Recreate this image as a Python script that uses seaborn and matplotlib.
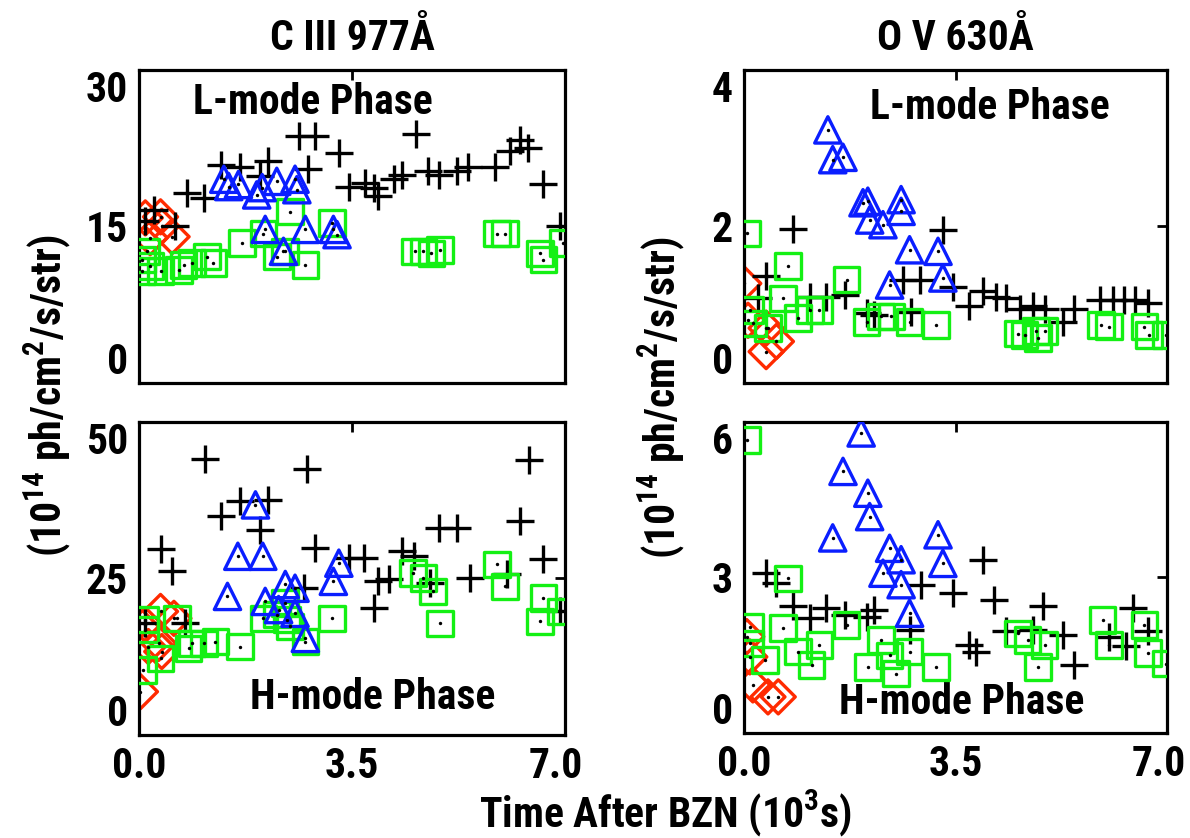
import matplotlib
matplotlib.use("Agg")
import matplotlib.pyplot as plt
from matplotlib import font_manager
from matplotlib.transforms import ScaledTranslation
import seaborn as sns

# ---- 数据：C III 977Å, L-mode ----
ciii_l_plus_t = [0.25, 0.10, 0.59, 0.78, 1.07, 1.34, 1.65, 1.98, 2.12, 2.62, 2.78, 2.89, 3.28, 3.44, 3.71, 3.85, 3.93,
                 4.18, 4.32, 4.54, 4.75, 4.92, 5.22, 5.41, 5.85, 6.10, 6.26, 6.39, 6.64, 6.91]
ciii_l_plus_v = [16.6, 15.5, 15.0, 18.2, 17.7, 20.9, 20.7, 19.8, 21.2, 23.6, 20.5, 23.6, 22.0, 18.75, 19.1, 18.7, 17.9,
                 19.5, 19.9, 23.8, 20.3, 19.9, 20.3, 20.7, 20.7, 22.2, 23.3, 22.5, 19.0, 15.0]
ciii_l_tri_t = [1.39, 1.47, 1.63, 1.93, 2.02, 2.26, 2.56, 2.59, 2.07, 2.73, 2.37, 3.19, 3.25]
ciii_l_tri_v = [19.5, 18.8, 19.0, 18.0, 18.7, 19.3, 19.5, 18.5, 14.7, 14.7, 12.6, 14.7, 14.2]
ciii_l_sq_t = [2.48, 3.17, 2.04, 1.69, 2.40, 2.26, 2.73, 1.22, 1.11, 0.87, 0.73, 0.65, 0.35, 0.18, 0.05, 0.05, 0.12,
               4.53, 4.67, 4.80, 4.94, 5.88, 6.01, 6.59, 6.64, 6.96]
ciii_l_sq_v = [16.4, 15.3, 14.3, 13.4, 12.6, 12.1, 11.3, 11.5, 12.1, 11.5, 11.3, 10.8, 10.7, 11.2, 11.8, 10.7, 12.6,
               12.6, 12.6, 12.4, 12.7, 14.3, 14.3, 12.4, 11.8, 13.4]
ciii_l_dia_t = [0.10, 0.35, 0.37, 0.18, 0.54]
ciii_l_dia_v = [15.8, 15.9, 15.0, 13.9, 14.0]

# ---- C III 977Å, H-mode ----
ciii_h_plus_t = [1.08, 2.76, 6.40, 1.66, 2.12, 1.34, 1.99, 0.36, 0.54, 2.89, 3.44, 3.69, 4.32, 4.51, 4.92, 5.22, 6.26,
                 6.64, 3.93, 4.10, 3.85, 5.44, 6.04, 6.92, 2.70, 4.78, 0.76, 0.10]
ciii_h_plus_v = [44.0, 42.4, 43.9, 37.3, 37.4, 34.9, 32.7, 29.6, 26.1, 29.8, 28.2, 28.2, 29.3, 28.5, 33.0, 33.0, 34.1,
                 28.1, 24.5, 24.8, 20.2, 25.0, 25.6, 19.7, 23.4, 24.2, 17.8, 17.8]
ciii_h_tri_t = [1.91, 1.62, 2.03, 1.45, 2.40, 2.56, 3.28, 3.19, 2.07, 2.29, 2.56, 2.73]
ciii_h_tri_v = [36.7, 28.5, 28.5, 22.1, 24.0, 23.4, 27.4, 24.5, 21.3, 20.0, 19.4, 15.4]
ciii_h_sq_t = [0.10, 0.10, 0.62, 0.35, 0.07, 0.87, 0.81, 1.06, 1.25, 1.66, 2.04, 2.26, 2.40, 2.43, 2.48, 2.73, 3.17,
               4.50, 4.67, 4.83, 4.94, 5.88, 6.01, 6.64, 6.59, 6.93]
ciii_h_sq_v = [18.4, 16.8, 18.6, 12.2, 10.4, 14.6, 13.8, 14.6, 14.9, 14.1, 18.6, 19.2, 21.0, 18.4, 17.3, 14.9, 18.6,
               25.8, 25.0, 22.9, 17.8, 27.2, 23.7, 21.8, 18.1, 19.7]
ciii_h_dia_t = [0.35, 0.57, 0.10, 0.32, 0.15, 0.37, 0.02]
ciii_h_dia_v = [19.7, 18.6, 17.6, 14.6, 14.1, 13.3, 6.9]

# ---- O V 630Å, L-mode ----
ov_l_plus_t = [0.81, 3.29, 0.37, 0.24, 1.09, 1.36, 1.67, 2.03, 2.16, 2.63, 2.91, 2.77, 3.46, 3.73, 3.95, 4.17, 4.34,
               4.56, 4.78, 4.97, 5.27, 5.46, 5.88, 6.10, 6.29, 6.46, 6.68]
ov_l_plus_v = [1.96, 1.95, 1.36, 1.08, 1.10, 1.10, 1.12, 0.89, 0.87, 1.32, 1.32, 0.91, 1.23, 0.98, 1.17, 1.10, 1.08,
               0.95, 0.98, 0.95, 0.78, 0.95, 1.06, 1.06, 1.06, 1.06, 1.02]
ov_l_tri_t = [1.39, 1.47, 1.64, 1.97, 2.05, 2.08, 2.30, 2.60, 2.60, 2.74, 3.21, 3.29, 2.41]
ov_l_tri_v = [3.23, 2.85, 2.88, 2.30, 2.32, 2.08, 2.02, 2.34, 2.19, 1.70, 1.68, 1.34, 1.25]
ov_l_sq_t = [0.05, 0.73, 0.65, 1.70, 0.10, 0.15, 0.40, 0.90, 1.09, 1.25, 2.03, 2.27, 2.44, 2.74, 3.18, 4.53, 4.64,
             4.83, 4.97, 4.86, 5.90, 6.04, 6.62, 6.70, 6.98]
ov_l_sq_v = [1.91, 1.49, 1.08, 1.32, 0.93, 0.76, 0.70, 0.83, 0.93, 0.93, 0.78, 0.85, 0.85, 0.78, 0.74, 0.63, 0.61,
             0.66, 0.66, 0.57, 0.74, 0.72, 0.72, 0.61, 0.61]
ov_l_dia_t = [0.00, 0.07, 0.37, 0.54, 0.37]
ov_l_dia_v = [1.27, 0.80, 0.70, 0.53, 0.40]

# ---- O V 630Å, H-mode ----
ov_h_plus_t = [0.37, 0.54, 3.95, 2.93, 3.46, 4.14, 4.94, 6.43, 0.81, 1.09, 1.36, 1.67, 2.03, 2.16, 2.74, 3.73, 3.84,
               4.34, 4.78, 5.27, 5.46, 6.04, 6.32, 6.68]
ov_h_plus_v = [3.08, 2.89, 3.34, 2.86, 2.69, 2.57, 2.44, 2.41, 2.44, 2.21, 2.41, 2.28, 2.24, 2.37, 1.99, 1.70, 1.57,
               1.96, 1.99, 1.89, 1.31, 1.86, 1.67, 1.96]
ov_h_tri_t = [1.94, 1.64, 2.05, 2.08, 1.47, 3.21, 2.41, 2.60, 2.30, 3.29, 2.60, 2.74]
ov_h_tri_v = [5.78, 5.04, 4.62, 4.17, 3.76, 3.82, 3.56, 3.34, 3.08, 3.27, 2.86, 2.31]
ov_h_sq_t = [0.05, 0.73, 0.10, 0.65, 0.10, 0.35, 0.90, 1.12, 1.25, 1.70, 2.05, 2.27, 2.41, 2.52, 2.74, 3.18, 4.53,
             4.69, 4.97, 4.86, 5.93, 6.04, 6.62, 6.68, 6.98]
ov_h_sq_v = [5.65, 2.98, 2.05, 2.02, 1.73, 1.41, 1.57, 1.31, 1.70, 2.08, 1.28, 1.79, 1.50, 1.15, 1.57, 1.28, 1.92,
             1.79, 1.70, 1.28, 2.18, 1.70, 2.08, 1.54, 1.34]
ov_h_dia_t = [0.05, 0.10, 0.15, 0.40, 0.57]
ov_h_dia_v = [1.86, 1.47, 0.93, 0.70, 0.70]

titles = ['C III 977Å', 'O V 630Å']
ylims = [[30, 50], [4, 6]]
xticks = [0.0, 3.5, 7.0]
xticklabels = ['0.0', '3.5', '7.0']

# 字体：找一个窄体（condensed），接近原图 IDL 的瘦高字体
cands = ['Liberation Sans Narrow', 'Roboto Condensed', 'Open Sans Condensed', 'DejaVu Sans Condensed']
names = {f.name for f in font_manager.fontManager.ttflist}
FONT = next((n for n in cands if n in names), None)
STRETCH = 'normal'
if FONT is None:
    cond = [f for f in font_manager.fontManager.ttflist
            if 'condensed' in str(f.stretch) or 'Condensed' in f.fname or 'Narrow' in f.fname]
    if cond:
        FONT = cond[0].name
        STRETCH = 'condensed'
    else:
        FONT = 'Liberation Sans'

sns.set_theme(style='white')
plt.rcParams['font.family'] = [FONT, 'DejaVu Sans']
plt.rcParams['font.weight'] = 'bold'
plt.rcParams['font.stretch'] = STRETCH
plt.rcParams['mathtext.fontset'] = 'custom'
plt.rcParams['mathtext.rm'] = FONT + ':bold'
plt.rcParams['mathtext.default'] = 'rm'
# 文字全黑（seaborn 默认是深灰）
for key in ['text.color', 'axes.labelcolor', 'xtick.color', 'ytick.color', 'axes.edgecolor']:
    plt.rcParams[key] = 'black'

FS = 30
BLACK, BLUE, GREEN, RED = 'black', '#0a1eff', '#14f014', '#ff2a00'

fig = plt.figure(figsize=(11.9, 8.38), dpi=100)
axes = {
    (0, 0): fig.add_axes([0.117, 0.543, 0.358, 0.374]),
    (1, 0): fig.add_axes([0.117, 0.123, 0.358, 0.374]),
    (0, 1): fig.add_axes([0.625, 0.543, 0.356, 0.374]),
    (1, 1): fig.add_axes([0.625, 0.125, 0.356, 0.372]),
}

panels = {
    (0, 0): (ciii_l_plus_t, ciii_l_plus_v, ciii_l_tri_t, ciii_l_tri_v, ciii_l_sq_t, ciii_l_sq_v, ciii_l_dia_t, ciii_l_dia_v),
    (1, 0): (ciii_h_plus_t, ciii_h_plus_v, ciii_h_tri_t, ciii_h_tri_v, ciii_h_sq_t, ciii_h_sq_v, ciii_h_dia_t, ciii_h_dia_v),
    (0, 1): (ov_l_plus_t, ov_l_plus_v, ov_l_tri_t, ov_l_tri_v, ov_l_sq_t, ov_l_sq_v, ov_l_dia_t, ov_l_dia_v),
    (1, 1): (ov_h_plus_t, ov_h_plus_v, ov_h_tri_t, ov_h_tri_v, ov_h_sq_t, ov_h_sq_v, ov_h_dia_t, ov_h_dia_v),
}

LW = 2.4
for (r, c), ax in axes.items():
    pt, pv, tt, tv, st, sv, dt, dv = panels[(r, c)]
    # 十字
    sns.scatterplot(x=pt, y=pv, ax=ax, marker='+', s=420, color=BLACK, linewidth=LW, zorder=3)
    # 菱形、方块、三角（空心）
    sns.scatterplot(x=dt, y=dv, ax=ax, marker='D', s=300, facecolor='none', edgecolor=RED, linewidth=LW, zorder=2)
    sns.scatterplot(x=st, y=sv, ax=ax, marker='s', s=340, facecolor='none', edgecolor=GREEN, linewidth=LW, zorder=4)
    sns.scatterplot(x=tt, y=tv, ax=ax, marker='^', s=360, facecolor='none', edgecolor=BLUE, linewidth=LW, zorder=5)
    # 中心小黑点
    allx = list(dt) + list(st) + list(tt)
    ally = list(dv) + list(sv) + list(tv)
    sns.scatterplot(x=allx, y=ally, ax=ax, marker='o', s=6, color='black', linewidth=0, zorder=6)

    ymax = ylims[c][r]
    ax.set_xlim(0, 7)
    ax.set_ylim(0, ymax)
    ax.set_xticks(xticks)
    ax.set_yticks([0, ymax / 2, ymax])
    ax.tick_params(direction='in', length=7, width=2, top=True, right=True,
                   labelsize=FS, pad=8, colors='black')
    if r == 0:
        ax.set_xticklabels([])
    else:
        ax.set_xticklabels(xticklabels)
        last = ax.get_xticklabels()[-1]
        # 7.0 稍微左移，和原图一样不出界
        last.set_transform(last.get_transform() + ScaledTranslation(-0.09, 0, fig.dpi_scale_trans))
    ax.set_yticklabels([f'{v:g}' for v in [0, ymax / 2, ymax]])
    for lab in ax.get_xticklabels() + ax.get_yticklabels():
        lab.set_fontweight('bold')
    ylabs = ax.get_yticklabels()
    ylabs[0].set_va('bottom')
    ylabs[2].set_va('top')
    for side in ax.spines.values():
        side.set_linewidth(2.3)
        side.set_color('black')

# 标题与标注
axes[(0, 0)].set_title(titles[0], fontsize=FS, fontweight='bold', pad=14)
axes[(0, 1)].set_title(titles[1], fontsize=FS, fontweight='bold', pad=14)
axes[(0, 0)].text(0.127, 0.895, 'L-mode Phase', transform=axes[(0, 0)].transAxes, fontsize=FS, fontweight='bold', va='center')
axes[(0, 1)].text(0.297, 0.88, 'L-mode Phase', transform=axes[(0, 1)].transAxes, fontsize=FS, fontweight='bold', va='center')
axes[(1, 0)].text(0.26, 0.12, 'H-mode Phase', transform=axes[(1, 0)].transAxes, fontsize=FS, fontweight='bold', va='center')
axes[(1, 1)].text(0.226, 0.10, 'H-mode Phase', transform=axes[(1, 1)].transAxes, fontsize=FS, fontweight='bold', va='center')

ylab = r'(10$^{14}$ ph/cm$^{2}$/s/str)'
fig.text(0.040, 0.528, ylab, rotation=90, fontsize=FS, fontweight='bold', ha='center', va='center')
fig.text(0.556, 0.526, ylab, rotation=90, fontsize=FS, fontweight='bold', ha='center', va='center')
fig.text(0.559, 0.029, r'Time After BZN (10$^{3}$s)', fontsize=FS, fontweight='bold', ha='center', va='center')

fig.savefig('out.png', dpi=100)
